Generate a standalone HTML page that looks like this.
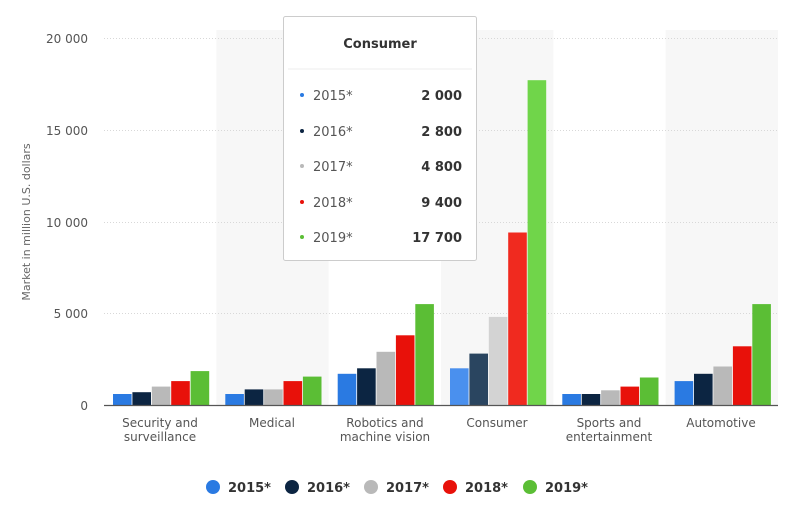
<!DOCTYPE html>
<html><head><meta charset="utf-8"><style>
body{margin:0;background:#fff;width:798px;height:508px;overflow:hidden;font-family:"DejaVu Sans",sans-serif;}
</style></head><body>
<svg id="s" width="798" height="508" xmlns="http://www.w3.org/2000/svg" font-family="DejaVu Sans, sans-serif">
<rect x="216.3" y="30" width="112.3" height="375" fill="#f7f7f7"/>
<rect x="441" y="30" width="112.3" height="375" fill="#f7f7f7"/>
<rect x="665.7" y="30" width="112.3" height="375" fill="#f7f7f7"/>
<g stroke="#d8d8d8" stroke-dasharray="1,2" stroke-width="1">
<line x1="104" x2="778" y1="38.5" y2="38.5"/>
<line x1="104" x2="778" y1="130.5" y2="130.5"/>
<line x1="104" x2="778" y1="222.5" y2="222.5"/>
<line x1="104" x2="778" y1="313.5" y2="313.5"/>
</g>
<g font-size="12" fill="#555" text-anchor="end">
<text x="88" y="43">20 000</text>
<text x="88" y="135">15 000</text>
<text x="88" y="227">10 000</text>
<text x="88" y="318">5 000</text>
<text x="88" y="410">0</text>
</g>
<text transform="translate(30,222) rotate(-90)" font-size="11" fill="#666" text-anchor="middle">Market in million U.S. dollars</text>
<g id="bars"></g>
<line x1="104" x2="778" y1="405.5" y2="405.5" stroke="#555" stroke-width="1.2"/>
<g font-size="12" fill="#555" text-anchor="middle">
<text x="160" y="427">Security and</text><text x="160" y="441">surveillance</text>
<text x="272" y="427">Medical</text>
<text x="385" y="427">Robotics and</text><text x="385" y="441">machine vision</text>
<text x="497" y="427">Consumer</text>
<text x="609" y="427">Sports and</text><text x="609" y="441">entertainment</text>
<text x="721" y="427">Automotive</text>
</g>
<g font-size="13" font-weight="bold" fill="#333">
<circle cx="213" cy="487" r="7" fill="#2a7ae2"/><text x="228" y="492">2015*</text>
<circle cx="292" cy="487" r="7" fill="#0c2542"/><text x="307" y="492">2016*</text>
<circle cx="371" cy="487" r="7" fill="#b9b9b9"/><text x="386" y="492">2017*</text>
<circle cx="450" cy="487" r="7" fill="#e8110a"/><text x="465" y="492">2018*</text>
<circle cx="530" cy="487" r="7" fill="#5bbe35"/><text x="545" y="492">2019*</text>
</g>
<rect x="283.5" y="16.5" width="193" height="244" fill="#fff" stroke="#ccc" rx="2"/>
<text x="380" y="48" font-size="13" font-weight="bold" fill="#333" text-anchor="middle">Consumer</text>
<line x1="288" x2="472" y1="69" y2="69" stroke="#eee"/>
<g font-size="13" fill="#555">
<circle cx="302" cy="95" r="2" fill="#2a7ae2"/><text x="313" y="100">2015*</text>
<circle cx="302" cy="131" r="2" fill="#0c2542"/><text x="313" y="136">2016*</text>
<circle cx="302" cy="166" r="2" fill="#b9b9b9"/><text x="313" y="171">2017*</text>
<circle cx="302" cy="202" r="2" fill="#e8110a"/><text x="313" y="207">2018*</text>
<circle cx="302" cy="237" r="2" fill="#5bbe35"/><text x="313" y="242">2019*</text>
</g>
<g font-size="13" font-weight="bold" fill="#333" text-anchor="end">
<text x="462" y="100">2 000</text><text x="462" y="136">2 800</text><text x="462" y="171">4 800</text><text x="462" y="207">9 400</text><text x="462" y="242">17 700</text>
</g>
</svg>
<script>
var data=[[600,700,1000,1300,1850],[600,850,850,1300,1550],[1700,2000,2900,3800,5500],[2000,2800,4800,9400,17700],[600,600,800,1000,1500],[1300,1700,2100,3200,5500]];
var cols=["#2a7ae2","#0c2542","#b9b9b9","#e8110a","#5bbe35"];
var ccols=["#4a90ee","#2a4560","#d3d3d3","#f02a1f","#70d54a"];
var g=document.getElementById("bars"),h="";
for(var i=0;i<6;i++)for(var j=0;j<5;j++){var v=data[i][j]*367/20000;var x=104+i*112.33+9+j*19.4;
h+='<rect x="'+x.toFixed(1)+'" y="'+(405-v).toFixed(1)+'" width="18.6" height="'+v.toFixed(1)+'" fill="'+(i==3?ccols[j]:cols[j])+'"/>';}
g.innerHTML=h;
</script>
</body></html>
